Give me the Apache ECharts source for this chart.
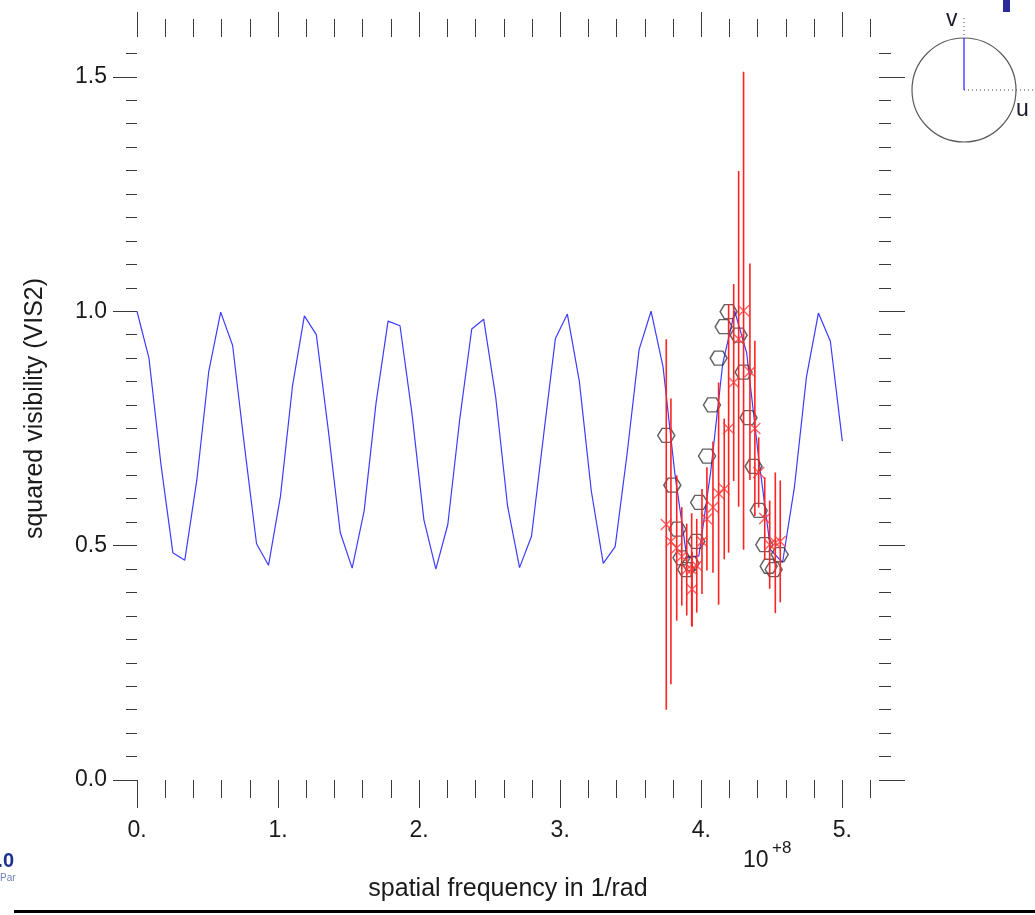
<!DOCTYPE html>
<html>
<head>
<meta charset="utf-8">
<script src="https://cdn.jsdelivr.net/npm/echarts@6/dist/echarts.min.js"></script>
<style>
html,body{margin:0;padding:0;background:#fff;}
#chart{width:1035px;height:915px;}
</style>
</head>
<body>
<div id="chart"></div>
<script>
// ---- data (spatial frequency in units of 1e8 rad^-1) ----
var modelFreq = [0.0000,0.0847,0.1695,0.2542,0.3390,0.4237,0.5085,0.5932,0.6780,0.7627,
  0.8475,0.9322,1.0169,1.1017,1.1864,1.2712,1.3559,1.4407,1.5254,1.6102,
  1.6949,1.7797,1.8644,1.9492,2.0339,2.1186,2.2034,2.2881,2.3729,2.4576,
  2.5424,2.6271,2.7119,2.7966,2.8814,2.9661,3.0508,3.1356,3.2203,3.3051,
  3.3898,3.4746,3.5593,3.6441,3.7288,3.8136,3.8983,3.9831,4.0678,4.1525,
  4.2373,4.3220,4.4068,4.4915,4.5763,4.6610,4.7458,4.8305,4.9153,5.0000];
var modelVis2 = [1.000,0.900,0.674,0.485,0.469,0.639,0.871,0.998,0.927,0.710,
  0.504,0.458,0.605,0.839,0.990,0.950,0.747,0.528,0.452,0.574,
  0.805,0.979,0.969,0.782,0.555,0.450,0.545,0.770,0.962,0.983,
  0.818,0.584,0.453,0.520,0.733,0.942,0.994,0.851,0.617,0.462,
  0.498,0.697,0.918,1.000,0.882,0.652,0.474,0.478,0.660,0.889,
  1.000,0.911,0.687,0.491,0.464,0.626,0.860,0.996,0.936,0.723];

var hexFreq = [3.752,3.795,3.831,3.860,3.893,3.925,3.965,3.985,4.041,4.076,4.123,
  4.159,4.194,4.265,4.300,4.335,4.371,4.407,4.447,4.478,4.513,4.556];
var hexVis2 = [0.735,0.629,0.535,0.474,0.449,0.462,0.509,0.592,0.691,0.800,0.900,
  0.967,0.999,0.949,0.870,0.773,0.669,0.575,0.502,0.456,0.449,0.481];

var obsFreq = [3.752,3.785,3.826,3.862,3.897,3.932,3.935,3.968,4.005,4.040,4.083,4.123,
  4.163,4.194,4.230,4.265,4.300,4.345,4.380,4.407,4.450,4.485,4.525,4.560];
var obsVis2 = [0.545,0.509,0.495,0.477,0.449,0.449,0.407,0.457,0.509,0.557,0.582,0.611,
  0.621,0.750,0.848,0.941,1.001,0.871,0.750,0.656,0.558,0.502,0.506,0.509];
var obsErr  = [0.395,0.305,0.155,0.105,0.098,0.120,0.080,0.100,0.112,0.110,0.140,0.237,
  0.150,0.265,0.210,0.358,0.510,0.231,0.187,0.075,0.088,0.094,0.150,0.130];

var xTicks = [0,1,2,3,4,5];
var yTicks = [0,0.5,1.0,1.5];

function zip(a,b){var r=[];for(var i=0;i<a.length;i++)r.push([a[i],b[i]]);return r;}

var chart = echarts.init(document.getElementById('chart'), null, {renderer:'canvas'});
var FONT = 'Liberation Sans, Arial, sans-serif';
var tickColor = '#3a3a3a';

function xAxisCfg(pos, showLab, majLen, minLen){
  return {
    type:'value', position:pos, min:0, max:5.26, interval:1,
    axisLine:{show:false, onZero:false}, splitLine:{show:false},
    axisTick:{show:true, inside:false, length:majLen, customValues:xTicks, lineStyle:{color:tickColor,width:1}},
    minorTick:{show:true, splitNumber:5, length:minLen, lineStyle:{color:tickColor,width:1}},
    axisLabel:{show:showLab, customValues:xTicks, margin:39, fontSize:23, fontFamily:FONT, color:'#1a1a1a',
      formatter:function(v){return Math.abs(v-Math.round(v))<1e-6 ? Math.round(v)+'.' : '';}},
    name: showLab ? 'spatial frequency in 1/rad' : '',
    nameLocation:'middle', nameGap:97,
    nameTextStyle:{fontSize:25, fontFamily:FONT, color:'#1a1a1a'}
  };
}
function yAxisCfg(pos, showLab, majLen, minLen){
  return {
    type:'value', position:pos, min:0, max:1.585, interval:0.5,
    axisLine:{show:false, onZero:false}, splitLine:{show:false},
    axisTick:{show:true, inside:false, length:majLen, customValues:yTicks, lineStyle:{color:tickColor,width:1}},
    minorTick:{show:true, splitNumber:10, length:minLen, lineStyle:{color:tickColor,width:1}},
    axisLabel:{show:showLab, customValues:yTicks, margin:30, fontSize:23, fontFamily:FONT, color:'#1a1a1a',
      formatter:function(v){return Math.abs(v*2-Math.round(v*2))<1e-6 ? v.toFixed(1) : '';}},
    name: showLab ? 'squared visibility (VIS2)' : '',
    nameLocation:'middle', nameGap:89, nameRotate:90,
    nameTextStyle:{fontSize:25, fontFamily:FONT, color:'#1a1a1a'}
  };
}

var hexPath = 'path://M0,6 L3.5,0 L10.5,0 L14,6 L10.5,12 L3.5,12 Z';
var crossPath = 'path://M0,0 L10,10 M10,0 L0,10';

var option = {
  backgroundColor:'#ffffff',
  animation:false,
  grid:{left:137, top:37, width:742, height:743, containLabel:false},
  xAxis:[xAxisCfg('bottom', true, 28, 18), xAxisCfg('top', false, 25, 18)],
  yAxis:[yAxisCfg('left', true, 24, 11), yAxisCfg('right', false, 26, 12)],
  series:[
    {
      type:'line', data:zip(modelFreq, modelVis2), showSymbol:false,
      lineStyle:{color:'#3c3cff', width:1.2}, z:2
    },
    {
      type:'scatter', data:zip(hexFreq, hexVis2), symbol:hexPath, symbolSize:[17,14],
      itemStyle:{color:'transparent', borderColor:'#3a3a3a', borderWidth:1.4}, z:3
    },
    {
      type:'custom', z:4,
      data: obsFreq.map(function(f,i){return [f, obsVis2[i], obsErr[i]];}),
      renderItem:function(params, api){
        var x = api.value(0), y = api.value(1), e = api.value(2);
        var p1 = api.coord([x, y-e]), p2 = api.coord([x, y+e]);
        return {type:'line', shape:{x1:p1[0], y1:p1[1], x2:p2[0], y2:p2[1]},
          style:{stroke:'#ff2222', lineWidth:1.6}};
      }
    },
    {
      type:'scatter', data:zip(obsFreq, obsVis2), symbol:crossPath, symbolSize:11,
      itemStyle:{color:'transparent', borderColor:'#ff3838', borderWidth:1.4}, z:5
    }
  ],
  graphic:[
    {type:'text', left:743, top:849, style:{text:'10', fontSize:23, fontFamily:FONT, fill:'#1a1a1a'}},
    {type:'text', left:772, top:840, style:{text:'+8', fontSize:17, fontFamily:FONT, fill:'#1a1a1a'}},
    // uv inset
    {type:'circle', shape:{cx:964, cy:90, r:52}, style:{fill:'none', stroke:'#5a5a5a', lineWidth:1.2}},
    {type:'line', shape:{x1:964, y1:38, x2:964, y2:90}, style:{stroke:'#3030ff', lineWidth:1.3}},
    {type:'line', shape:{x1:964, y1:90, x2:1035, y2:90}, style:{stroke:'#444', lineWidth:1, lineDash:[1,3]}},
    {type:'line', shape:{x1:964, y1:18, x2:964, y2:38}, style:{stroke:'#444', lineWidth:1, lineDash:[1,3]}},
    {type:'text', left:946, top:8, style:{text:'v', fontSize:23, fontFamily:FONT, fill:'#1a1a2a'}},
    {type:'text', left:1016, top:98, style:{text:'u', fontSize:23, fontFamily:FONT, fill:'#1a1a2a'}},
    {type:'rect', shape:{x:1003, y:0, width:7, height:12}, style:{fill:'#2a2a9a'}},
    // cut-off logo at bottom-left
    {type:'text', right:1021, top:851, style:{text:'.0', fontSize:20, fontWeight:'bold', fontFamily:FONT, fill:'#1f2f8f'}},
    {type:'text', left:0, top:873, style:{text:'Par', fontSize:10, fontFamily:FONT, fill:'#7080b8'}},
    {type:'rect', shape:{x:14, y:910, width:1021, height:3}, style:{fill:'#000'}}
  ]
};
chart.setOption(option);
</script>
</body>
</html>
